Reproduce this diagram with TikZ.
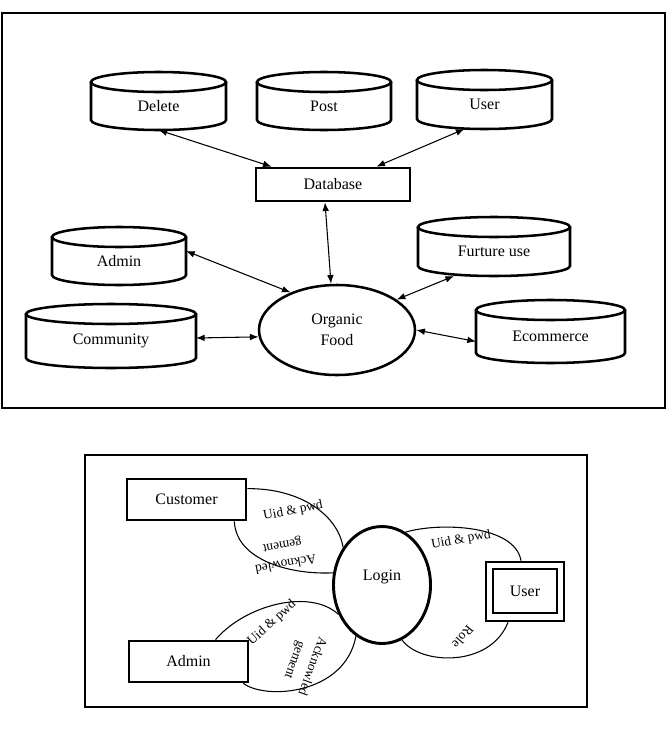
\documentclass[tikz,border=0pt]{standalone}
\usepackage{fontspec}
\setmainfont{Liberation Serif}
\usetikzlibrary{arrows.meta,shapes.geometric,calc}
\newcommand\mycyl[6]{%
  \node[cylbody, minimum width={#5*0.75pt}, minimum height={(#4-#3-10)*0.75pt}] (#1) at (#2,{(#3+10+#4)/2}) {#6};
  \draw[cylline] (#1.north) ellipse [x radius={#5/2}, y radius=10];
  \draw[cylline] (#1.north west) -- ($(#1.south west)+(0,-10)$) arc [start angle=180, end angle=0, x radius={#5/2}, y radius=10] -- (#1.north east);
}
\begin{document}
\begin{tikzpicture}[x=0.75pt,y=-0.75pt,
  font=\fontsize{12}{14.5}\selectfont,
  cylbody/.style={draw=none, inner sep=0pt, outer sep=0pt},
  cylline/.style={line width=1.9pt},
  boxthick/.style={draw, line width=2pt, inner sep=0pt},
  arr/.style={line width=0.8pt, {Latex[length=6.5pt,width=5pt]}-{Latex[length=6.5pt,width=5pt]}},
  loopline/.style={line width=0.8pt},
  lbl/.style={font=\fontsize{10}{14}\selectfont, align=center, inner sep=0pt},
]
\useasboundingbox (0,0) rectangle (668,732);

% ---------- upper diagram ----------
\draw[line width=2.2pt] (2,13) rectangle (665,408);

\mycyl{delete}{158.5}{72}{130}{135}{Delete}
\mycyl{post}{324}{72}{130}{134}{Post}
\mycyl{user}{484.5}{70}{129}{135}{User}
\mycyl{admin}{119}{227}{285}{134}{Admin}
\mycyl{future}{494}{217}{276}{152}{Furture use}
\mycyl{community}{111}{304}{368}{170}{Community}
\mycyl{ecommerce}{550.5}{300}{363}{149}{Ecommerce}

\node[boxthick, minimum width=115.5pt, minimum height=24.75pt] (db) at (333,184.5) {Database};
\node[draw, ellipse, line width=1.9pt, minimum width=117pt, minimum height=67.5pt, inner sep=0pt,
      align=center, font=\fontsize{12}{15.5}\selectfont] (organic) at (337,330) {Organic\\Food};

\draw[arr] (delete.south) -- ($(db.north west)+(17,0)$);
\draw[arr] ($(user.south)+(-20,0)$) -- ($(db.north east)+(-35,0)$);
\draw[arr] ($(db.south)+(-8,0)$) -- ($(organic.north)+(-6,0)$);
\draw[arr] ($(admin.east)+(0,-10)$) -- (organic.141);
\draw[arr] ($(future.south)+(-40,0)$) -- (organic.27);
\draw[arr] ($(community.east)+(0,-3)$) -- (organic.185);
\draw[arr] (organic.east) -- ($(ecommerce.west)+(0,5)$);

% ---------- lower diagram ----------
\draw[line width=2pt] (85,455) rectangle (587,707);

\node[boxthick, minimum width=89.25pt, minimum height=30.75pt] (customer) at (186.5,499.5) {Customer};
\node[boxthick, minimum width=89.25pt, minimum height=30.75pt] (admin2) at (188.5,661.5) {Admin};
\node[boxthick, minimum width=58.5pt, minimum height=44.25pt] (userout) at (525,591.5) {};
\node[boxthick, minimum width=48pt, minimum height=33pt] (user2) at (525,591) {User};
\node[draw, ellipse, line width=2.2pt, minimum width=72.75pt, minimum height=87.75pt, inner sep=0pt,
      label={[yshift=6pt]center:Login}] (login) at (382,585) {};

\draw[loopline] ($(customer.north east)+(0,11)$) .. controls (300,488) and (338,515) .. (login.136);
\draw[loopline] ($(customer.south east)+(-13,0)$) .. controls (236,560) and (290,575) .. (login.166);
\draw[loopline] (login.66) .. controls (440,522) and (515,525) .. ($(userout.north)+(-4,0)$);
\draw[loopline] (login.290) .. controls (420,665) and (490,668) .. ($(userout.south)+(-17,0)$);
\draw[loopline] ($(admin2.north)+(27,0)$) .. controls (245,605) and (310,588) .. (login.214);
\draw[loopline] ($(admin2.south east)+(-6,0)$) .. controls (265,700) and (345,695) .. (login.243);

\node[lbl, rotate=11] (cuid) at (293,511) {Uid \& pwd};
\node[lbl, rotate=190] (cack) at (284,554) {Acknowled\\gement};
\node[lbl, rotate=10] (uuid) at (461,540) {Uid \& pwd};
\node[lbl, rotate=230] (urole) at (463,637) {Role};
\node[lbl, rotate=42] (auid) at (272,623) {Uid \& pwd};
\node[lbl, rotate=250] (aack) at (303,663) {Acknowled\\gement};
\end{tikzpicture}
\end{document}
